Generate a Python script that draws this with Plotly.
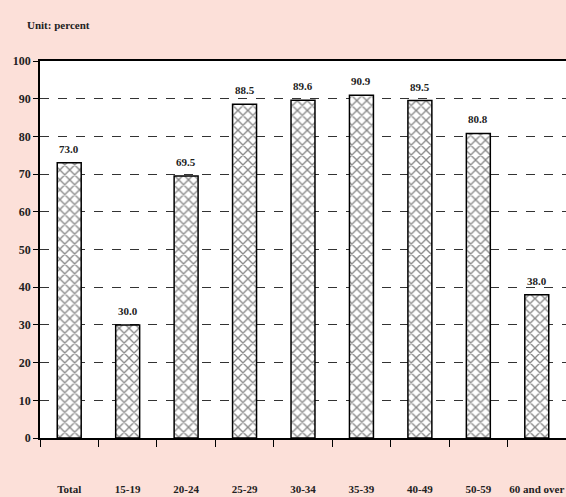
import plotly.graph_objects as go

categories = ["Total", "15-19", "20-24", "25-29", "30-34", "35-39", "40-49", "50-59", "60 and over"]
values = [73.0, 30.0, 69.5, 88.5, 89.6, 90.9, 89.5, 80.8, 38.0]
value_labels = ["73.0", "30.0", "69.5", "88.5", "89.6", "90.9", "89.5", "80.8", "38.0"]
y_ticks = [0, 10, 20, 30, 40, 50, 60, 70, 80, 90, 100]

FONT = "Liberation Serif"
BG = "#FCE0D9"
TXT = "#222222"

fig = go.Figure()
fig.add_trace(go.Bar(
    x=categories,
    y=values,
    width=0.41,
    marker=dict(
        color="white",
        line=dict(color="black", width=1.5),
        pattern=dict(shape="x", fgcolor="#111111", bgcolor="white", size=7, solidity=0.35),
    ),
    hoverinfo="skip",
))

annotations = [dict(
    text="<b>Unit: percent</b>", x=(25 - 40) / 526, y=1 + (61 - 25) / 377,
    xref="paper", yref="paper",
    showarrow=False, xanchor="left", yanchor="middle",
    font=dict(family=FONT, size=11, color=TXT),
)]
for c, v, t in zip(categories, values, value_labels):
    annotations.append(dict(
        text=f"<b>{t}</b>", x=c, y=v, xref="x", yref="y",
        showarrow=False, yanchor="bottom", yshift=6,
        font=dict(family=FONT, size=11, color=TXT),
    ))

fig.update_layout(
    width=566, height=497,
    margin=dict(l=40, r=0, t=61, b=59, autoexpand=False),
    paper_bgcolor=BG,
    plot_bgcolor="white",
    showlegend=False,
    font=dict(family=FONT, size=11, color=TXT),
    annotations=annotations,
)

fig.update_xaxes(
    type="category",
    range=[-0.5, 8.5],
    automargin=False,
    tickangle=0,
    showline=True, linecolor="black", linewidth=2, mirror=True,
    ticks="outside", tickson="boundaries", ticklen=7, tickcolor="black", tickwidth=1,
    ticklabelstandoff=40,
    tickfont=dict(family=FONT, size=11, color=TXT, weight="bold"),
    showgrid=False,
)
fig.update_yaxes(
    range=[0, 100],
    automargin=False,
    tickvals=y_ticks,
    showline=True, linecolor="black", linewidth=1.5,
    ticks="outside", ticklen=5, tickcolor="black",
    tickfont=dict(family=FONT, size=12, color=TXT, weight="bold"),
    showgrid=True, gridcolor="#333333", griddash="dash", gridwidth=1,
    zeroline=False,
)

fig.write_html(
    "out.html",
    config={"displayModeBar": False},
    post_script="document.body.style.margin='0';document.body.style.overflow='hidden';",
)
